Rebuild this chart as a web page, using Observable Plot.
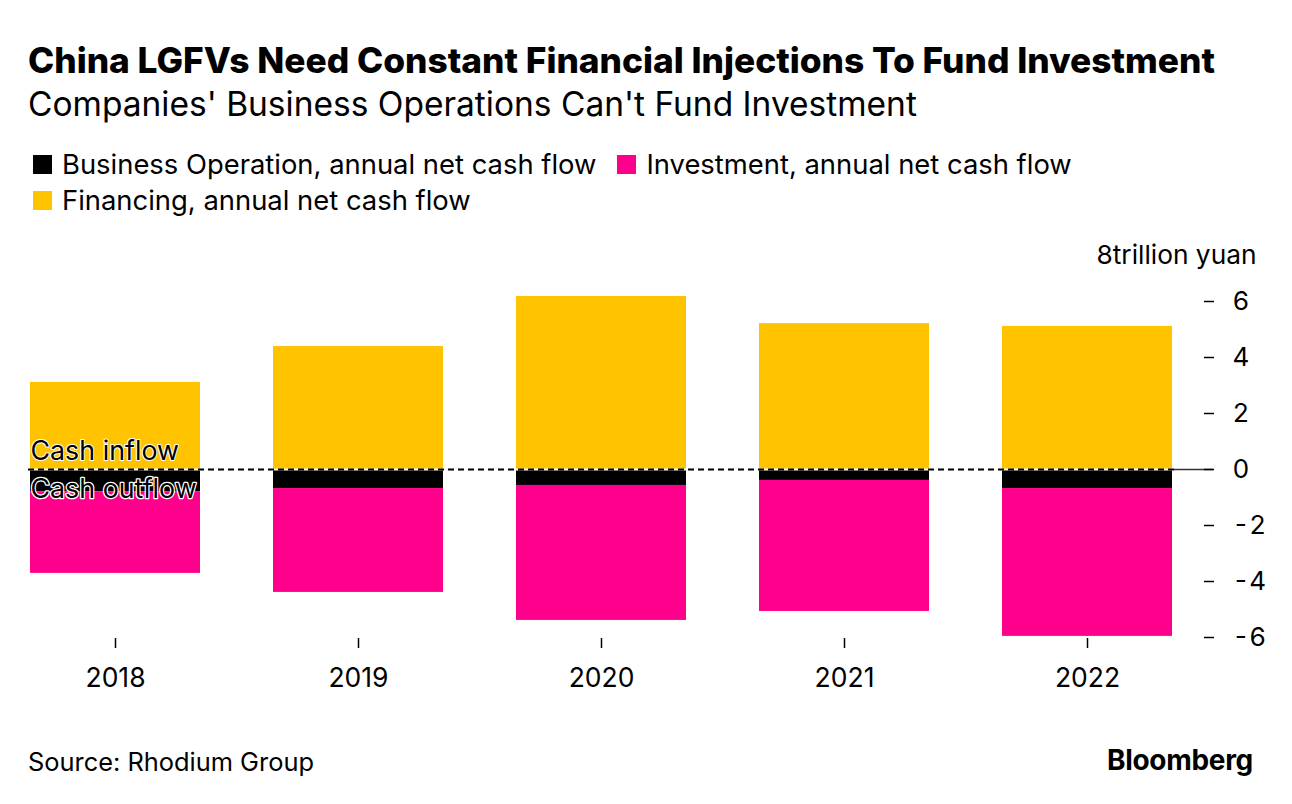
<!DOCTYPE html>
<html>
<head>
<meta charset="utf-8">
<script src="https://cdn.jsdelivr.net/npm/d3@7"></script>
<script src="https://cdn.jsdelivr.net/npm/@observablehq/plot@0.6"></script>
<style>
  html, body { margin: 0; padding: 0; background: #fff; }
  body { width: 1292px; height: 804px; position: relative; font-family: Inter, "Liberation Sans", Arial, sans-serif; color: #000; overflow: hidden; }
  #title { position: absolute; left: 28px; top: 39px; font-size: 35.3px; font-weight: 800; white-space: nowrap; }
  #subtitle { position: absolute; left: 28px; top: 84px; font-size: 33.5px; white-space: nowrap; }
  .legrow { position: absolute; left: 33px; font-size: 27.4px; white-space: nowrap; display: flex; align-items: center; }
  .sw { display: inline-block; width: 19px; height: 19px; margin-right: 10px; }
  .item { display: inline-flex; align-items: center; margin-right: 21px; }
  #chart { position: absolute; left: 0; top: 225px; }
  #source { position: absolute; left: 28px; top: 746px; font-size: 25.4px; }
  #logo { position: absolute; right: 39px; top: 743px; font-size: 28px; font-weight: 700; letter-spacing: -0.3px; }
</style>
</head>
<body>
<div id="title">China LGFVs Need Constant Financial Injections To Fund Investment</div>
<div id="subtitle">Companies' Business Operations Can't Fund Investment</div>
<div class="legrow" style="top:147px" id="leg1"></div>
<div class="legrow" style="top:183px" id="leg2"></div>
<div id="chart"></div>
<div id="source">Source: Rhodium Group</div>
<div id="logo">Bloomberg</div>
<script>
const years = ["2018", "2019", "2020", "2021", "2022"];
const businessOperation = [-0.80, -0.68, -0.57, -0.39, -0.68];
const investment = [-2.91, -3.71, -4.82, -4.68, -5.28];
const financing = [3.11, 4.39, 6.18, 5.21, 5.11];
const seriesNames = ["Business Operation, annual net cash flow", "Investment, annual net cash flow", "Financing, annual net cash flow"];
const seriesColors = ["#000000", "#ff008c", "#ffc300"];
const yTicks = [-6, -4, -2, 0, 2, 4, 6];
const yLabel = "8trillion yuan";

const rows = [];
years.forEach((yr, i) => {
  rows.push({year: yr, series: seriesNames[0], value: businessOperation[i]});
  rows.push({year: yr, series: seriesNames[1], value: investment[i]});
  rows.push({year: yr, series: seriesNames[2], value: financing[i]});
});

function addItem(el, i) {
  const s = document.createElement("span");
  s.className = "item";
  s.innerHTML = `<span class="sw" style="background:${seriesColors[i]}"></span>${seriesNames[i]}`;
  el.appendChild(s);
}
addItem(document.getElementById("leg1"), 0);
addItem(document.getElementById("leg1"), 1);
addItem(document.getElementById("leg2"), 2);

const plot = Plot.plot({
  width: 1292,
  height: 490,
  marginLeft: 28,
  marginRight: 118,
  marginTop: 40,
  marginBottom: 78,
  style: {fontFamily: "Inter, 'Liberation Sans', Arial, sans-serif", fontSize: "26px", color: "#000", background: "transparent"},
  x: {domain: years, paddingInner: 0.3, paddingOuter: 0, label: null},
  y: {domain: [-6, 7.2857], label: null},
  color: {domain: seriesNames, range: seriesColors},
  marks: [
    Plot.barY(rows, {x: "year", y: "value", fill: "series", order: seriesNames}),
    Plot.ruleY([0], {stroke: "#fff", strokeWidth: 2}),
    Plot.ruleY([0], {stroke: "#000", strokeWidth: 2, strokeDasharray: "6,4"}),
    Plot.ruleY([0], {stroke: "#333", strokeWidth: 1.5, insetLeft: 1146, insetRight: -39}),
    Plot.axisY({anchor: "right", ticks: yTicks, tickFormat: d => d, tickSize: 10, tickPadding: 19, dx: 29, fontSize: 26, stroke: "#000", strokeWidth: 1.5, label: null}),
    Plot.axisX({anchor: "bottom", tickSize: 10, tickPadding: 20, dy: 1, fontSize: 26.5, stroke: "#000", strokeWidth: 1.5, label: null}),
    Plot.text([yLabel], {frameAnchor: "top-right", text: d => d, dx: 82, dy: -20, textAnchor: "end", fontSize: 26.3}),
    Plot.text(["Cash inflow"], {x: () => years[0], y: () => 0, text: d => d, textAnchor: "start", dx: -85, dy: -18, fontSize: 26.8, fill: "#000", stroke: "#fff", strokeWidth: 2, paintOrder: "stroke"}),
    Plot.text(["Cash outflow"], {x: () => years[0], y: () => 0, text: d => d, textAnchor: "start", dx: -85, dy: 20, fontSize: 26.8, fill: "#000", stroke: "#fff", strokeWidth: 2.5, paintOrder: "stroke"})
  ]
});
document.getElementById("chart").appendChild(plot);
</script>
</body>
</html>
